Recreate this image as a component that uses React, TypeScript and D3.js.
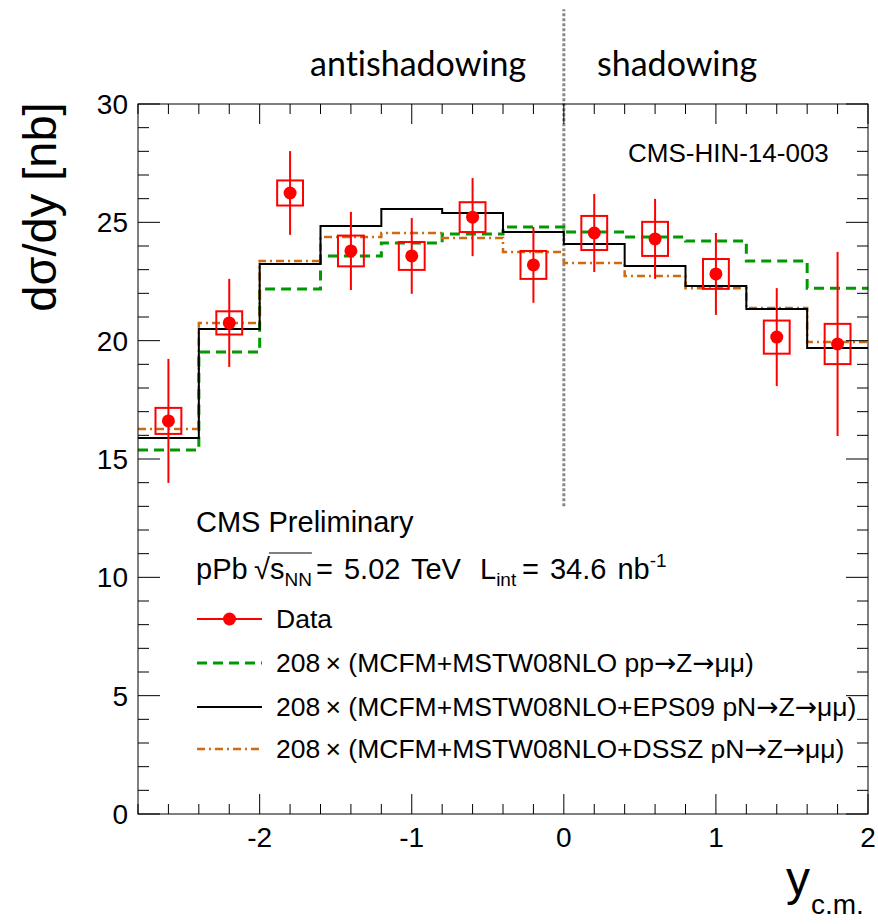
import React, { useLayoutEffect, useRef, useState } from "react";
import * as d3 from "d3";

// Rapidity bins (centre-of-mass frame)
const binEdges = [-2.8, -2.4, -2.0, -1.6, -1.2, -0.8, -0.4, 0.0, 0.4, 0.8, 1.2, 1.6, 2.0];

// Measured dσ/dy [nb] with statistical and systematic uncertainties
const dataValues = [16.61, 20.75, 26.24, 23.79, 23.58, 25.22, 23.2, 24.55, 24.3, 22.82, 20.15, 19.86];
const dataStatErr = [2.62, 1.86, 1.77, 1.65, 1.6, 1.65, 1.6, 1.65, 1.69, 1.73, 2.07, 3.89];
const dataSystErr = [0.55, 0.49, 0.53, 0.65, 0.59, 0.63, 0.59, 0.72, 0.72, 0.63, 0.7, 0.85];

// Theory predictions, one value per bin
const ppPrediction = [15.38, 19.52, 22.18, 23.58, 24.13, 24.51, 24.8, 24.59, 24.38, 24.21, 23.37, 22.22];
const eps09Prediction = [15.89, 20.49, 23.24, 24.84, 25.56, 25.39, 24.59, 24.08, 23.15, 22.31, 21.34, 19.69];
const dsszPrediction = [16.27, 20.75, 23.37, 24.38, 24.55, 24.34, 23.75, 23.28, 22.73, 22.22, 21.38, 19.94];

const xTicksMajor = [-2, -1, 0, 1, 2];
const yTicksMajor = [0, 5, 10, 15, 20, 25, 30];
const xDomain: [number, number] = [-2.8, 2.0];
const yDomain: [number, number] = [0, 30];
const dividerRange = [13, 34];

// legend entries: label pieces, arrows rendered in a separate font
const legendLabels: string[][] = [
  ["Data"],
  ["208\u2009\u00d7 (MCFM+MSTW08NLO pp", "\u2192", "Z", "\u2192", "\u03bc\u03bc)"],
  ["208\u2009\u00d7 (MCFM+MSTW08NLO+EPS09 pN", "\u2192", "Z", "\u2192", "\u03bc\u03bc)"],
  ["208\u2009\u00d7 (MCFM+MSTW08NLO+DSSZ pN", "\u2192", "Z", "\u2192", "\u03bc\u03bc)"],
];

const W = 878;
const H = 924;
const left = 138;
const right = 868;
const top = 104;
const bottom = 814;

const FONT = "'Liberation Sans', Arial, Helvetica, sans-serif";
const ARROW_FONT = "'DejaVu Sans', sans-serif";
const RED = "#ff0000";
const GREEN = "#009a00";
const ORANGE = "#d06a10";

export default function App() {
  const x = d3.scaleLinear().domain(xDomain).range([left, right]);
  const y = d3.scaleLinear().domain(yDomain).range([bottom, top]);

  const centers = binEdges.slice(0, -1).map((e, i) => (e + binEdges[i + 1]) / 2);
  const halfBox = 0.085;

  const stepLine = (vals: number[]) => {
    const pts: [number, number][] = vals.map((v, i) => [binEdges[i], v]);
    pts.push([binEdges[binEdges.length - 1], vals[vals.length - 1]]);
    return d3
      .line<[number, number]>()
      .x((d) => x(d[0]))
      .y((d) => y(d[1]))
      .curve(d3.curveStepAfter)(pts) as string;
  };

  const xMinor = d3.range(-2.8, 2.0001, 0.2).map((v) => Math.round(v * 10) / 10);
  const yMinor = d3.range(0, 30.0001, 1);

  // measure the sqrt argument so the radical's bar spans it
  const sRef = useRef<SVGTSpanElement>(null);
  const nnRef = useRef<SVGTSpanElement>(null);
  const [bar, setBar] = useState<[number, number] | null>(null);
  useLayoutEffect(() => {
    document.body.style.margin = "0";
    if (sRef.current && nnRef.current) {
      const s0 = sRef.current.getStartPositionOfChar(0).x;
      const n = nnRef.current.getNumberOfChars();
      const e = nnRef.current.getEndPositionOfChar(n - 1).x;
      setBar([s0, e]);
    }
  }, []);

  const legendRows = [619, 663, 707, 749];
  const lx0 = 197;
  const lx1 = 262;
  const regionFont: React.CSSProperties = { fontVariantLigatures: "none" };

  return (
    <svg width={W} height={H} style={{ display: "block", background: "#fff" }}>
      <rect x={0} y={0} width={W} height={H} fill="#fff" />

      {/* region labels and divider */}
      <text x={310} y={76} fontFamily="Lato, 'Open Sans', sans-serif" fontSize={34} fill="#000" style={regionFont}>
        antishadowing
      </text>
      <text x={597} y={76} fontFamily="Lato, 'Open Sans', sans-serif" fontSize={34} fill="#000" style={regionFont}>
        shadowing
      </text>
      <line
        x1={x(0)}
        x2={x(0)}
        y1={y(dividerRange[0])}
        y2={y(dividerRange[1])}
        stroke="#888"
        strokeWidth={3}
        strokeDasharray="3,2"
      />

      {/* model predictions */}
      <path d={stepLine(ppPrediction)} fill="none" stroke={GREEN} strokeWidth={3} strokeDasharray="10,6" />
      <path d={stepLine(dsszPrediction)} fill="none" stroke={ORANGE} strokeWidth={2.5} strokeDasharray="8,4,2,4" />
      <path d={stepLine(eps09Prediction)} fill="none" stroke="#000" strokeWidth={2} />

      {/* data */}
      {centers.map((c, i) => (
        <g key={i}>
          <rect
            x={x(c - halfBox)}
            y={y(dataValues[i] + dataSystErr[i])}
            width={x(c + halfBox) - x(c - halfBox)}
            height={y(dataValues[i] - dataSystErr[i]) - y(dataValues[i] + dataSystErr[i])}
            fill="none"
            stroke={RED}
            strokeWidth={2}
          />
          <line
            x1={x(c)}
            x2={x(c)}
            y1={y(dataValues[i] + dataStatErr[i])}
            y2={y(dataValues[i] - dataStatErr[i])}
            stroke={RED}
            strokeWidth={2}
          />
          <circle cx={x(c)} cy={y(dataValues[i])} r={6.5} fill={RED} />
        </g>
      ))}

      {/* frame */}
      <rect x={left} y={top} width={right - left} height={bottom - top} fill="none" stroke="#000" strokeWidth={1} />

      {/* x ticks */}
      {xMinor.map((v) => {
        const major = xTicksMajor.includes(v);
        const len = major ? 20 : 10;
        return (
          <g key={"xt" + v}>
            <line x1={x(v)} x2={x(v)} y1={bottom} y2={bottom - len} stroke="#000" strokeWidth={1} />
            <line x1={x(v)} x2={x(v)} y1={top} y2={top + len} stroke="#000" strokeWidth={1} />
          </g>
        );
      })}
      {/* y ticks */}
      {yMinor.map((v) => {
        const major = yTicksMajor.includes(v);
        const len = major ? 22 : 11;
        return (
          <g key={"yt" + v}>
            <line x1={left} x2={left + len} y1={y(v)} y2={y(v)} stroke="#000" strokeWidth={1} />
            <line x1={right} x2={right - len} y1={y(v)} y2={y(v)} stroke="#000" strokeWidth={1} />
          </g>
        );
      })}

      {/* tick labels */}
      {xTicksMajor.map((v) => (
        <text key={"xl" + v} x={x(v)} y={847} textAnchor="middle" fontFamily={FONT} fontSize={28} fill="#000">
          {String(v)}
        </text>
      ))}
      {yTicksMajor.map((v) => (
        <text key={"yl" + v} x={128} y={y(v) + 10} textAnchor="end" fontFamily={FONT} fontSize={28} fill="#000">
          {String(v)}
        </text>
      ))}

      {/* axis titles */}
      <text transform="translate(56,207) rotate(-90)" textAnchor="middle" fontFamily={FONT} fontSize={47} fill="#000">
        dσ/dy [nb]
      </text>
      <text x={786} y={895} fontFamily={FONT} fontSize={48} fill="#000">
        y
      </text>
      <text x={811} y={914} fontFamily={FONT} fontSize={28} fill="#000">
        c.m.
      </text>

      <text x={628} y={162} fontFamily={FONT} fontSize={26} fill="#000">
        CMS-HIN-14-003
      </text>

      {/* legend header */}
      <text x={196} y={532} fontFamily={FONT} fontSize={29} fill="#000">
        CMS Preliminary
      </text>
      <text y={579} fontFamily={FONT} fontSize={29} fill="#000">
        <tspan x={196}>pPb</tspan>
        <tspan x={254}>√</tspan>
        <tspan ref={sRef}>s</tspan>
        <tspan ref={nnRef} fontSize={19} dy={7}>NN</tspan>
        <tspan x={316} dy={-7} wordSpacing={3}>= 5.02 TeV</tspan>
        <tspan x={480}>L</tspan>
        <tspan fontSize={19} dy={7}>int</tspan>
        <tspan x={522} dy={-7} wordSpacing={3}>= 34.6 nb</tspan>
        <tspan fontSize={19} dy={-12}>-1</tspan>
      </text>
      {bar && (
        <line x1={bar[0] - 1} x2={bar[1]} y1={553} y2={553} stroke="#000" strokeWidth={1.2} />
      )}

      {/* legend entries */}
      <line x1={lx0} x2={lx1} y1={legendRows[0]} y2={legendRows[0]} stroke={RED} strokeWidth={2} />
      <circle cx={(lx0 + lx1) / 2} cy={legendRows[0]} r={6.5} fill={RED} />
      <line x1={lx0} x2={lx1} y1={legendRows[1]} y2={legendRows[1]} stroke={GREEN} strokeWidth={3} strokeDasharray="10,6" />
      <line x1={lx0} x2={lx1} y1={legendRows[2]} y2={legendRows[2]} stroke="#000" strokeWidth={2} />
      <line x1={lx0} x2={lx1} y1={legendRows[3]} y2={legendRows[3]} stroke={ORANGE} strokeWidth={2.5} strokeDasharray="8,4,2,4" />
      {legendLabels.map((parts, i) => (
        <text key={i} x={276} y={legendRows[i] + 9} fontFamily={FONT} fontSize={26.5} fill="#000">
          {parts.map((p, j) => (
            <tspan key={j} fontFamily={p === "\u2192" ? ARROW_FONT : undefined}>
              {p}
            </tspan>
          ))}
        </text>
      ))}
    </svg>
  );
}
